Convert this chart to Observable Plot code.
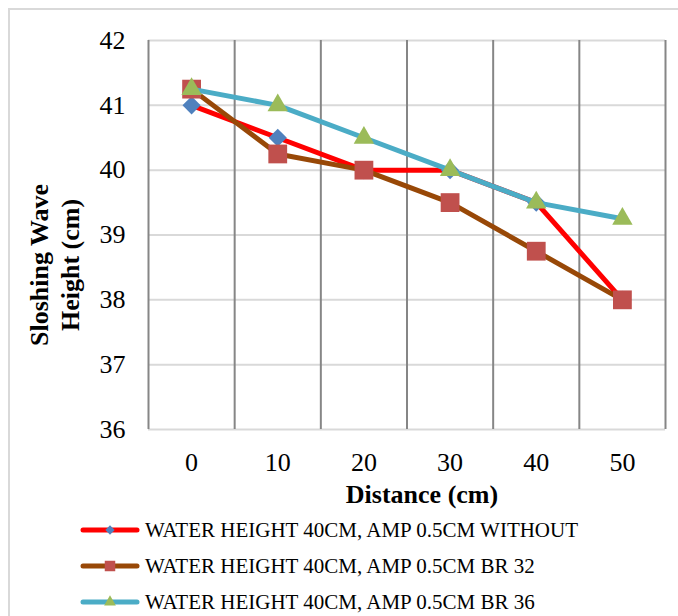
<!DOCTYPE html>
<html>
<head>
<meta charset="utf-8">
<script src="https://cdn.jsdelivr.net/npm/d3@7"></script>
<script src="https://cdn.jsdelivr.net/npm/@observablehq/plot@0.6"></script>
<style>
  html, body { margin: 0; padding: 0; background: #fff; }
  #wrap { position: relative; width: 678px; height: 616px; overflow: hidden; font-family: "Liberation Serif", "Times New Roman", serif; }
  #border { position: absolute; left: 8px; top: 8px; width: 720px; height: 700px; border: 2px solid #d9d9d9; box-sizing: border-box; }
  #chart { position: absolute; left: 0; top: 0; }
  #legend { position: absolute; left: 80px; top: 512px; }
  .row { display: flex; align-items: center; height: 36px; font-size: 21px; color: #000; white-space: nowrap; font-family: "Liberation Serif", "Times New Roman", serif; }
  .row svg { margin-right: 5px; }
</style>
</head>
<body>
<div id="wrap"><div id="border"></div><div id="chart"></div><div id="legend"></div></div>
<script>
// ---- data ----
const distance = [0, 10, 20, 30, 40, 50];
const without = [41, 40.5, 40, 40, 39.5, 38];
const br32 = [41.25, 40.25, 40, 39.5, 38.75, 38];
const br36 = [41.25, 41, 40.5, 40, 39.5, 39.25];
const seriesNames = [
  "WATER HEIGHT 40CM, AMP 0.5CM WITHOUT",
  "WATER HEIGHT 40CM, AMP 0.5CM BR 32",
  "WATER HEIGHT 40CM, AMP 0.5CM BR 36"
];
const yTicks = [36, 37, 38, 39, 40, 41, 42];
const xTitle = "Distance (cm)";
const yTitle = "Sloshing Wave\nHeight (cm)";

// ---- styles ----
const FONT = '"Liberation Serif", "Times New Roman", serif';
const lineColors = ["#ff0000", "#984807", "#4bacc6"];
const markerColors = ["#4f81bd", "#c0504d", "#9bbb59"];
const symbols = ["diamond2", "square", "triangle"];
const radii = [8.2, 10.6, 7.6];

const values = [without, br32, br36];
const series = values.map((vals, i) => distance.map((d, j) => ({series: seriesNames[i], x: d, y: vals[j]})));
const half = (distance[1] - distance[0]) / 2;
const bounds = distance.map(d => d - half).concat([distance[distance.length - 1] + half]);

const marks = [
  Plot.ruleY(yTicks, {stroke: "#d9d9d9", strokeWidth: 2}),
  Plot.ruleX(bounds, {stroke: "#868686", strokeWidth: 2}),
  Plot.axisY(yTicks, {tickSize: 0, tickPadding: 23, label: null, fontSize: 26, tickFormat: d => String(d), fontFamily: FONT}),
  Plot.axisX(distance, {tickSize: 0, tickPadding: 23, label: null, fontSize: 26, tickFormat: d => String(d), fontFamily: FONT})
];
series.forEach((rows, i) => {
  marks.push(Plot.line(rows, {x: "x", y: "y", stroke: lineColors[i], strokeWidth: 5, strokeLinejoin: "round"}));
  marks.push(Plot.dot(rows, {x: "x", y: "y", symbol: () => symbols[i], fill: markerColors[i], stroke: "none", r: radii[i]}));
});
marks.push(Plot.text([xTitle], {frameAnchor: "bottom", textAnchor: "middle", dy: 73, dx: 15, fontSize: 26, fontWeight: "bold", fill: "#000", fontFamily: FONT}));
marks.push(Plot.text([yTitle], {frameAnchor: "left", textAnchor: "middle", lineAnchor: "middle", dx: -95, dy: 30, rotate: -90, fontSize: 26, fontWeight: "bold", lineHeight: 1.2, fill: "#000", fontFamily: FONT}));

const chart = Plot.plot({
  width: 678,
  height: 616,
  marginLeft: 148,
  marginRight: 13,
  marginTop: 40,
  marginBottom: 187,
  x: {type: "linear", domain: [bounds[0], bounds[bounds.length - 1]]},
  y: {domain: [yTicks[0], yTicks[yTicks.length - 1]]},
  symbol: {type: "identity"},
  style: {fontFamily: FONT, fontSize: "26px", color: "#000", background: "transparent", overflow: "visible"},
  marks
});
document.getElementById("chart").appendChild(chart);

// ---- legend ----
const legend = d3.select("#legend");
seriesNames.forEach((name, i) => {
  const row = legend.append("div").attr("class", "row");
  const svg = row.append("svg").attr("width", 60).attr("height", 20);
  svg.append("line").attr("x1", 3).attr("x2", 57).attr("y1", 10).attr("y2", 10)
    .attr("stroke", lineColors[i]).attr("stroke-width", 5).attr("stroke-linecap", "round");
  const sym = [d3.symbolDiamond2, d3.symbolSquare, d3.symbolTriangle][i];
  const size = [55, 110, 60][i];
  svg.append("path").attr("transform", "translate(30,10)")
    .attr("d", d3.symbol(sym, size)()).attr("fill", markerColors[i]);
  row.append("span").text(name);
});
</script>
</body>
</html>
